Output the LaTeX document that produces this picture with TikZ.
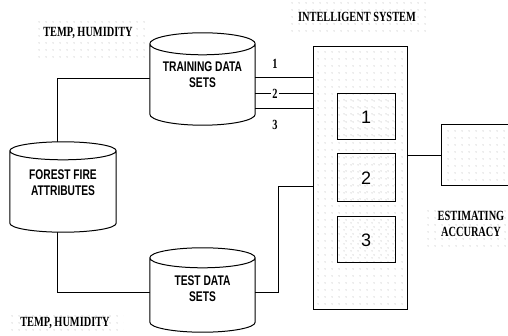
\documentclass[tikz,border=0pt]{standalone}
\usepackage{fontspec}
\usetikzlibrary{calc,patterns.meta}
\newfontfamily\cylfont[FakeStretch=0.73]{Liberation Sans}
\newfontfamily\capfont[FakeStretch=0.74]{Liberation Serif}
\newfontfamily\numfont{Liberation Sans}

% outline of a storage drum inside the bounds of node #1, end-ellipse half height #2
\newcommand\drum[2]{%
  \draw[drumline] let \p1=(#1.north west), \p2=(#1.south east), \n1={(\x2-\x1)/2} in
    (\x1,\y1-#2pt) -- (\x1,\y2+#2pt)
      arc[start angle=180, end angle=360, x radius=\n1, y radius=#2pt]
      -- (\x2,\y1-#2pt)
      arc[start angle=0, end angle=180, x radius=\n1, y radius=#2pt]
    (\x2,\y1-#2pt)
      arc[start angle=0, end angle=-180, x radius=\n1, y radius=#2pt];}

\tikzset{
  dotfill/.style={pattern={Dots[distance=6.5pt, radius=0.6pt]}, pattern color=gray!60},
  drumline/.style={line width=1pt, fill=white},
  drumtext/.style={font=\cylfont\bfseries\fontsize{14}{16}\selectfont, align=center, inner sep=0pt},
  caption/.style={font=\capfont\bfseries\fontsize{14}{17}\selectfont, align=center, inner sep=0pt},
  box/.style={draw, line width=1pt, dotfill, inner sep=0pt},
  link/.style={line width=1pt},
  numtext/.style={font=\numfont\fontsize{18}{20}\selectfont}
}

\begin{document}
\begin{tikzpicture}[x=1pt, y=-1pt]
  \clip (0,0) rectangle (508,336);
  \fill[white] (0,0) rectangle (508,336);

  % dotted backdrops behind the captions
  \fill[dotfill] (33,22) rectangle (147,62);
  \fill[dotfill] (288,3) rectangle (427,33);
  \fill[dotfill] (427,207) rectangle (508,247);
  \fill[dotfill] (10,312) rectangle (123,336);

  % captions
  \node[caption] (tempA) at (88,33) {TEMP, HUMIDITY};
  \node[caption] (tempB) at (65,323) {TEMP, HUMIDITY};
  \node[caption] (sysname) at (357,17) {INTELLIGENT SYSTEM};
  \node[caption] (accname) at (471,223.5) {ESTIMATING\\[-1pt]ACCURACY};

  % data stores
  \node[minimum width=105pt, minimum height=92pt, inner sep=0pt] (train) at (202.5,79) {};
  \node[minimum width=106pt, minimum height=90pt, inner sep=0pt] (forest) at (63,187) {};
  \node[minimum width=105pt, minimum height=84pt, inner sep=0pt] (test) at (202.5,290) {};

  % connectors between the stores
  \draw[link] (train.west) -| ([xshift=-6pt]forest.north);
  \draw[link] ([xshift=-6pt]forest.south) |- ([yshift=-3pt]test.west);

  \drum{train}{11}
  \drum{forest}{9}
  \drum{test}{10}
  \node[drumtext] at (202.5,75) {TRAINING DATA\\SETS};
  \node[drumtext] at (63,182.5) {FOREST FIRE\\ATTRIBUTES};
  \node[drumtext] at (202.5,289) {TEST DATA\\SETS};

  % intelligent system with its three models
  \node[box, minimum width=94pt, minimum height=262pt] (sys) at (360,178) {};
  \node[box, minimum width=58pt, minimum height=46pt, numtext] (m1) at (366,117) {1};
  \node[box, minimum width=58pt, minimum height=48pt, numtext] (m2) at (366,178) {2};
  \node[box, minimum width=58pt, minimum height=46pt, numtext] (m3) at (366,240) {3};

  % accuracy estimation block
  \node[box, minimum width=79pt, minimum height=61pt] (acc) at (480.5,155.5) {};

  % three training feeds
  \draw[link] ([yshift=1pt]train.east) -- ([yshift=1pt]train.east -| sys.west);
  \draw[link] ([yshift=-15pt]train.east) -- ([yshift=-15pt]train.east -| sys.west);
  \draw[link] ([yshift=-30pt]train.east) -- ([yshift=-30pt]train.east -| sys.west);
  \node[caption] (f1) at (275,64) {1};
  \node[caption, fill=white, inner xsep=1pt] (f2) at (275,94) {2};
  \node[caption] (f3) at (275,125) {3};

  % test feed and result
  \draw[link] ([yshift=-3pt]test.east) -- ++(23,0) |- ([yshift=-9pt]sys.west);
  \draw[link] (sys.east |- acc.west) -- (acc.west);
\end{tikzpicture}
\end{document}
